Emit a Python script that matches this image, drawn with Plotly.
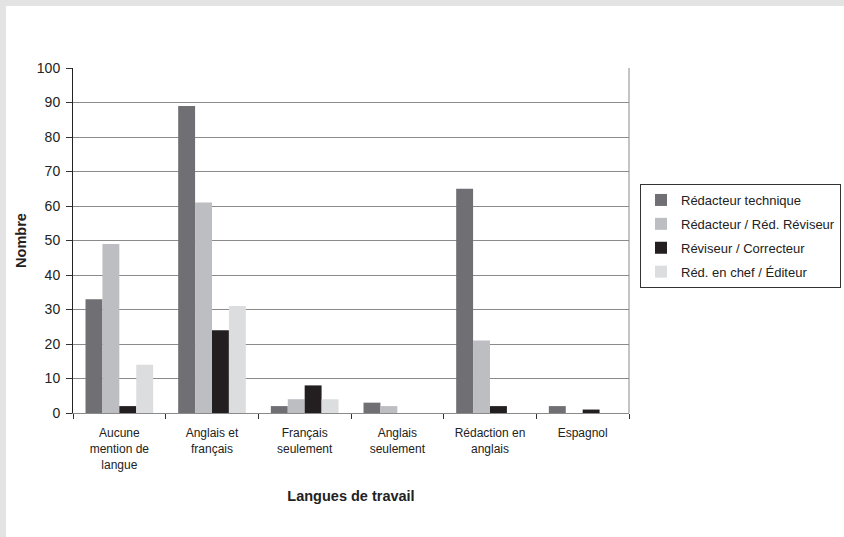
import plotly.graph_objects as go

# Working-language categories (x axis) and job-title series
categories = [
    "Aucune<br>mention de<br>langue",
    "Anglais et<br>français",
    "Français<br>seulement",
    "Anglais<br>seulement",
    "Rédaction en<br>anglais",
    "Espagnol",
]
series_names = [
    "Rédacteur technique",
    "Rédacteur / Réd. Réviseur",
    "Réviseur / Correcteur",
    "Réd. en chef / Éditeur",
]
redacteur_technique = [33, 89, 2, 3, 65, 2]
redacteur_reviseur = [49, 61, 4, 2, 21, 0]
reviseur_correcteur = [2, 24, 8, 0, 2, 1]
red_chef_editeur = [14, 31, 4, 0, 0, 0]
y_ticks = [0, 10, 20, 30, 40, 50, 60, 70, 80, 90, 100]

series_values = [redacteur_technique, redacteur_reviseur, reviseur_correcteur, red_chef_editeur]
colors = ["#707074", "#bdbec2", "#231f20", "#dcdddf"]

W, H = 844, 537
ML, MR, MT, MB = 73, 215, 68, 124
PW, PH = W - ML - MR, H - MT - MB

fig = go.Figure()
for i, (name, vals, col) in enumerate(zip(series_names, series_values, colors)):
    fig.add_trace(go.Bar(x=categories, y=vals, name=name, marker_color=col,
                         marker_line_width=0, legendgroup=f"g{i}"))


def px_x(p):
    return (p - ML) / PW


def px_y(p):
    return (H - MB - p) / PH


shapes = [
    # right border of the plotting frame
    dict(type="line", xref="paper", yref="paper", x0=1, x1=1, y0=0, y1=1,
         line=dict(color="#8a8a8a", width=1)),
    # textured edge strips of the page
    dict(type="rect", xref="paper", yref="paper", x0=px_x(0), x1=px_x(6),
         y0=px_y(H), y1=px_y(0), fillcolor="#e3e3e3", line_width=0, layer="below"),
    dict(type="rect", xref="paper", yref="paper", x0=px_x(0), x1=px_x(W),
         y0=px_y(6), y1=px_y(0), fillcolor="#e3e3e3", line_width=0, layer="below"),
]

font_family = "Liberation Sans, Arial, sans-serif"
fig.update_layout(
    width=W, height=H,
    margin=dict(l=ML, r=MR, t=MT, b=MB, autoexpand=False),
    paper_bgcolor="white", plot_bgcolor="white",
    barmode="group", bargap=0.27, bargroupgap=0,
    font=dict(family=font_family, size=12, color="#222222"),
    showlegend=True,
    legend=dict(x=px_x(640), y=px_y(184), xanchor="left", yanchor="top",
                bordercolor="#333333", borderwidth=1, bgcolor="white",
                font=dict(size=13, color="#222222"), tracegroupgap=4,
                traceorder="grouped"),
    shapes=shapes,
    xaxis=dict(
        title=dict(text="<b>Langues de travail</b>", font=dict(size=14.5), standoff=20),
        showline=True, linecolor="#8a8a8a", linewidth=1,
        ticks="outside", ticklen=5, tickcolor="#333333", tickson="boundaries",
        ticklabelstandoff=9,
        showgrid=False, tickfont=dict(size=12),
    ),
    yaxis=dict(
        title=dict(text="<b>Nombre</b>", font=dict(size=14.5), standoff=6),
        range=[0, 100], tickvals=y_ticks,
        showline=True, linecolor="#222222", linewidth=1,
        ticks="outside", ticklen=6, tickcolor="#333333",
        ticklabelstandoff=3,
        showgrid=True, gridcolor="#8a8a8a", gridwidth=1,
        zeroline=False, tickfont=dict(size=14),
    ),
)

fig.write_html("out.html")
